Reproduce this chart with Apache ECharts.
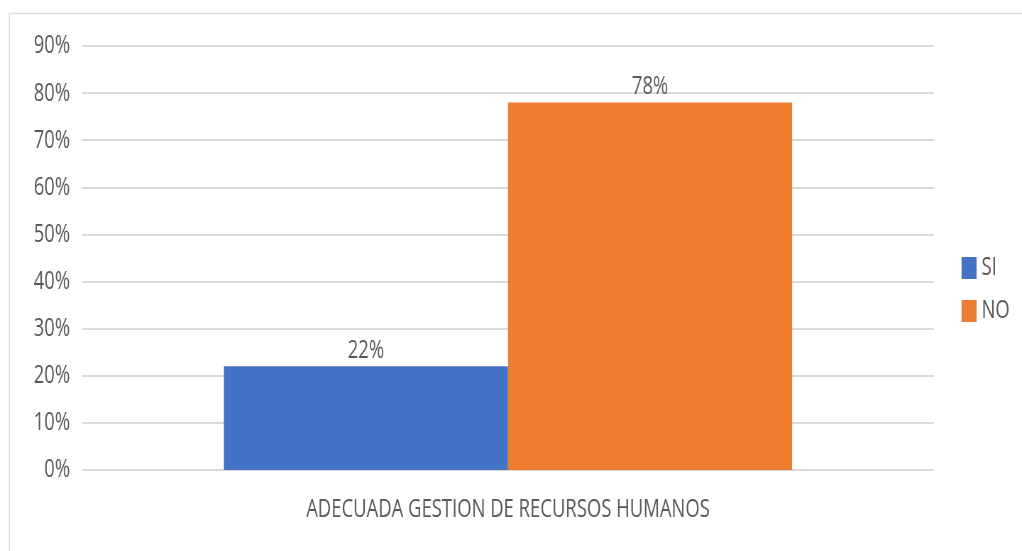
<!DOCTYPE html>
<html>
<head>
<meta charset="utf-8">
<script src="https://cdn.jsdelivr.net/npm/echarts@6/dist/echarts.min.js"></script>
<style>
  html, body { margin: 0; padding: 0; background: #ffffff; overflow: hidden; }
  #wrap { width: 1022px; height: 551px; overflow: hidden; }
  /* the chart is laid out wider and compressed horizontally to get a condensed type look */
  #chart { width: 1440px; height: 551px; transform: scaleX(0.7097); transform-origin: 0 0; }
</style>
</head>
<body>
<div id="wrap"><div id="chart"></div></div>
<script>
// Survey result: adequate human-resources management
const categories = ['ADECUADA GESTION DE RECURSOS HUMANOS'];
const seriesNames = ['SI', 'NO'];
const siValues = [22];
const noValues = [78];
const yTicks = [0, 10, 20, 30, 40, 50, 60, 70, 80, 90];

const SX = 0.7097;               // horizontal compression applied by CSS
const px = v => v / SX;          // convert an on-screen x distance to layout units
const FONT = '"Open Sans", "Noto Sans", sans-serif';
const FS = 26;
const TEXT = '#595959';

const chart = echarts.init(document.getElementById('chart'));
chart.setOption({
  backgroundColor: '#ffffff',
  animation: false,
  textStyle: { fontFamily: FONT },
  graphic: [{
    type: 'rect',
    shape: { x: px(9.5), y: 13.5, width: px(1030), height: 560 },
    style: { fill: 'none', stroke: '#dcdcdc', lineWidth: 1.5 },
    silent: true
  }],
  grid: { left: px(82), right: px(88), top: 46, bottom: 81 },
  legend: {
    orient: 'vertical',
    left: px(958),
    top: 250,
    itemWidth: px(15),
    itemHeight: 22,
    itemGap: 17,
    icon: 'rect',
    textStyle: { color: TEXT, fontSize: FS, fontFamily: FONT, padding: [0, 0, 0, 2] },
    data: seriesNames
  },
  xAxis: {
    type: 'category',
    data: categories,
    axisLine: { show: false },
    axisTick: { show: false },
    axisLabel: { color: TEXT, fontSize: FS, fontFamily: FONT, margin: 27 }
  },
  yAxis: {
    type: 'value',
    min: yTicks[0],
    max: yTicks[yTicks.length - 1],
    interval: 10,
    axisLine: { show: false },
    axisTick: { show: false },
    axisLabel: { color: TEXT, fontSize: FS, fontFamily: FONT, margin: px(12), formatter: '{value}%' },
    splitLine: { lineStyle: { color: '#d9d9d9', width: 2 } }
  },
  series: [
    {
      name: seriesNames[0],
      type: 'bar',
      data: siValues,
      barGap: '0%',
      barCategoryGap: '33.3%',
      itemStyle: { color: '#4472c4' },
      label: { show: true, position: 'top', formatter: '{c}%', color: TEXT, fontSize: FS, fontFamily: FONT, distance: 3 }
    },
    {
      name: seriesNames[1],
      type: 'bar',
      data: noValues,
      barGap: '0%',
      barCategoryGap: '33.3%',
      itemStyle: { color: '#ed7d31' },
      label: { show: true, position: 'top', formatter: '{c}%', color: TEXT, fontSize: FS, fontFamily: FONT, distance: 3 }
    }
  ]
});
</script>
</body>
</html>
